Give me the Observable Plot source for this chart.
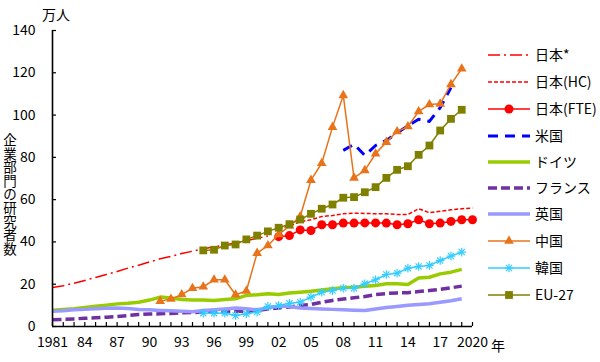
<!DOCTYPE html>
<html><head><meta charset="utf-8">
<script src="https://cdn.jsdelivr.net/npm/d3@7"></script>
<script src="https://cdn.jsdelivr.net/npm/@observablehq/plot@0.6"></script>
<style>
body{margin:0;background:#fff;}
#wrap{position:relative;width:600px;height:362px;font-family:"Noto Sans CJK JP",sans-serif;color:#000;overflow:hidden;}
#wrap svg{display:block;}
.ov{position:absolute;font-size:14px;line-height:1;white-space:nowrap;}
#ylab{white-space:pre;line-height:13.6px;font-size:13.5px;text-align:center;width:16px;}
</style></head>
<body><div id="wrap"></div>
<script>
// ---- data ----
const yearsJapanStar = d3.range(1981, 2002);
const japanStar = [18.5, 19.3, 20.5, 21.8, 23.2, 24.6, 26.0, 27.6, 29.0, 30.5, 32.0, 33.2, 34.5, 35.6, 36.8, 37.6, 38.6, 39.6, 40.6, 41.7, 42.8];
const yearsJapanNew = d3.range(2002, 2021);
const japanHC = [46.2, 47.5, 49.5, 50.5, 52.0, 52.5, 53.3, 53.6, 53.5, 53.3, 53.3, 53.0, 53.0, 55.7, 53.8, 54.5, 55.2, 55.7, 56.0];
const japanFTE = [42.5, 43.0, 45.7, 45.4, 48.1, 48.1, 48.9, 48.9, 49.0, 49.0, 48.9, 48.1, 48.6, 50.5, 48.6, 48.9, 49.7, 50.5, 50.5];
const yearsUS = d3.range(2008, 2019);
const us = [83.3, 86.2, 80.9, 85.6, 88.0, 91.5, 95.0, 98.0, 97.0, 103.5, 113.0];
const yearsEurope = d3.range(1981, 2020);
const germany = [7.7, 8.0, 8.4, 9.0, 9.6, 10.1, 10.7, 11.0, 11.5, 12.5, 13.9, 13.5, 12.8, 12.5, 12.5, 12.3, 12.8, 13.1, 14.7, 15.0, 15.5, 15.1, 15.8, 16.2, 16.7, 17.3, 17.8, 18.3, 18.6, 19.0, 19.4, 20.2, 20.2, 19.9, 22.9, 23.3, 24.9, 25.7, 27.0];
const france = [3.2, 3.4, 3.6, 3.9, 4.1, 4.4, 4.7, 5.2, 5.7, 5.9, 6.0, 6.2, 6.5, 6.6, 6.8, 7.0, 7.1, 7.2, 7.2, 7.6, 8.3, 8.8, 9.2, 9.9, 10.4, 11.5, 12.3, 13.0, 13.6, 14.2, 15.1, 15.6, 15.9, 16.0, 16.5, 17.0, 17.6, 18.3, 19.1];
const uk = [7.2, 7.5, 7.9, 8.1, 8.4, 8.6, 8.7, 8.5, 8.0, 7.9, 7.6, 7.4, 7.2, 7.0, 7.6, 7.9, 8.3, 8.7, 8.4, 7.9, 8.8, 9.7, 9.5, 8.8, 8.5, 8.3, 8.1, 7.9, 7.7, 7.6, 8.3, 9.0, 9.5, 10.0, 10.4, 10.8, 11.5, 12.2, 13.1];
const yearsChina = d3.range(1991, 2020);
const china = [12.0, 13.0, 15.1, 18.1, 18.8, 22.1, 22.1, 15.0, 16.8, 34.7, 38.3, 43.5, 47.5, 52.0, 69.2, 77.2, 94.3, 109.3, 70.3, 73.8, 81.7, 87.2, 92.2, 94.6, 101.7, 105.0, 105.3, 114.5, 121.9];
const yearsKoreaEU = d3.range(1995, 2020);
const korea = [6.3, 6.3, 6.3, 5.2, 6.0, 6.8, 9.5, 9.9, 11.0, 11.5, 13.9, 16.2, 17.0, 18.1, 18.1, 20.2, 22.1, 24.6, 25.2, 27.6, 28.4, 28.9, 31.2, 33.3, 35.2];
const eu27 = [36.0, 36.3, 38.3, 38.8, 41.2, 43.0, 45.0, 46.7, 48.4, 50.6, 53.3, 55.7, 57.7, 60.9, 61.2, 63.5, 65.9, 70.3, 74.1, 75.8, 81.2, 85.6, 92.7, 98.2, 102.5];

const yTicks = [0, 20, 40, 60, 80, 100, 120, 140];
const xTickYears = d3.range(1981, 2021);
const xLabelYears = [1981, 1984, 1987, 1990, 1993, 1996, 1999, 2002, 2005, 2008, 2011, 2014, 2017, 2020];

// ---- series styling ----
const series = [
  {name: "日本*", years: yearsJapanStar, values: japanStar, color: "#FF0000", width: 1.5, dash: "12,4,2,4"},
  {name: "日本(HC)", years: yearsJapanNew, values: japanHC, color: "#FF0000", width: 1.5, dash: "4,2"},
  {name: "日本(FTE)", years: yearsJapanNew, values: japanFTE, color: "#FF0000", width: 1.5, dash: null, symbol: "circle", r: 4.5},
  {name: "米国", years: yearsUS, values: us, color: "#0000FF", width: 3, dash: "10,7"},
  {name: "ドイツ", years: yearsEurope, values: germany, color: "#99CC00", width: 3.5, dash: null},
  {name: "フランス", years: yearsEurope, values: france, color: "#7030A0", width: 3.5, dash: "9,4"},
  {name: "英国", years: yearsEurope, values: uk, color: "#9999FF", width: 3.5, dash: null},
  {name: "中国", years: yearsChina, values: china, color: "#E8731A", width: 1.5, dash: null, symbol: "triangle", r: 3.6},
  {name: "韓国", years: yearsKoreaEU, values: korea, color: "#33CCFF", width: 1.5, dash: null, symbol: "star6", r: 2.9},
  {name: "EU-27", years: yearsKoreaEU, values: eu27, color: "#808000", width: 1.5, dash: null, symbol: "square", r: 4.4}
];
const rows = s => s.years.map((y, i) => ({year: y, value: s.values[i]}));

const marks = [];
for (const s of series) {
  const d = rows(s);
  marks.push(Plot.line(d, {x: "year", y: "value", stroke: s.color, strokeWidth: s.width,
    strokeDasharray: s.dash || undefined, strokeLinejoin: "round", strokeLinecap: "butt"}));
  if (s.symbol === "star6") {
    marks.push(Plot.dot(d, {x: "year", y: "value", symbol: "times", r: s.r, stroke: s.color, strokeWidth: 1.2, fill: "none"}));
    marks.push(Plot.dot(d, {x: "year", y: "value", symbol: "plus", r: s.r, stroke: s.color, strokeWidth: 1.2, fill: "none"}));
  } else if (s.symbol) {
    marks.push(Plot.dot(d, {x: "year", y: "value", symbol: s.symbol, r: s.r, fill: s.color, stroke: "none"}));
  }
}

const chart = Plot.plot({
  width: 600, height: 362,
  marginLeft: 52, marginRight: 128, marginTop: 30, marginBottom: 36,
  style: {fontFamily: '"Noto Sans CJK JP", sans-serif', fontSize: "14px", color: "#000", background: "#fff"},
  x: {domain: [1981, 2020]},
  y: {domain: [0, 140]},
  marks: [
    Plot.axisY({ticks: yTicks, tickSize: 0, tickPadding: 17, fontSize: 14, label: null}),
    Plot.axisY({ticks: yTicks, tickSize: 4, dx: 4, tickFormat: () => "", label: null, strokeWidth: 1.2}),
    Plot.axisX({ticks: xLabelYears, tickSize: 0, tickPadding: 11, fontSize: 14, label: null,
      tickFormat: d => (d === 1981 || d === 2020) ? String(d) : String(d % 100).padStart(2, "0")}),
    Plot.axisX({ticks: xTickYears, tickSize: 4, dy: -4, tickFormat: () => "", label: null, strokeWidth: 1.2}),
    ...marks,
    Plot.ruleX([1981], {stroke: "#000", strokeWidth: 1.6}),
    Plot.ruleY([0], {stroke: "#000", strokeWidth: 1.6})
  ]
});

const wrap = document.getElementById("wrap");
wrap.appendChild(chart);

function addText(txt, left, top, id) {
  const el = document.createElement("div");
  el.className = "ov"; el.textContent = txt;
  el.style.left = left + "px"; el.style.top = top + "px";
  if (id) el.id = id;
  wrap.appendChild(el);
}
addText("万人", 42, 7);
addText(Array.from("企業部門の研究者数").join("\n"), 2, 133, "ylab");
addText("年", 491, 338);

// ---- legend ----
const leg = d3.select(wrap).append("svg")
  .attr("width", 120).attr("height", 362)
  .style("position", "absolute").style("left", "480px").style("top", "0px");
const rowY = [55, 82, 109, 136, 162, 188, 214, 241, 268, 295];
series.forEach((s, i) => {
  const g = leg.append("g").attr("transform", `translate(0,${rowY[i]})`);
  g.append("line").attr("x1", 8).attr("x2", 50).attr("y1", 0).attr("y2", 0)
    .attr("stroke", s.color).attr("stroke-width", s.width)
    .attr("stroke-dasharray", s.dash || null);
  if (s.symbol === "star6") {
    for (const t of [d3.symbolTimes, d3.symbolPlus]) {
      g.append("path").attr("d", d3.symbol(t, Math.PI * s.r * s.r)()).attr("transform", "translate(29,0)")
        .attr("fill", "none").attr("stroke", s.color).attr("stroke-width", 1.2);
    }
  } else if (s.symbol) {
    const t = {circle: d3.symbolCircle, triangle: d3.symbolTriangle, square: d3.symbolSquare}[s.symbol];
    g.append("path").attr("d", d3.symbol(t, Math.PI * s.r * s.r)()).attr("transform", "translate(29,0)")
      .attr("fill", s.color);
  }
  g.append("text").attr("x", 55).attr("y", 0).attr("dy", "0.36em")
    .attr("font-family", '"Noto Sans CJK JP", sans-serif').attr("font-size", 14)
    .attr("fill", "#000").text(s.name);
});
</script>
</body></html>
